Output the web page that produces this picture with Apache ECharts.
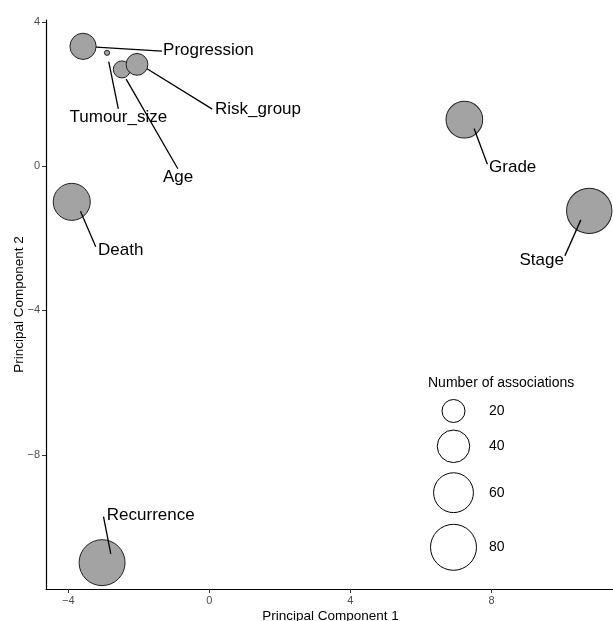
<!DOCTYPE html>
<html>
<head>
<meta charset="utf-8">
<script src="https://cdn.jsdelivr.net/npm/echarts@6/dist/echarts.min.js"></script>
<style>
  html, body { margin: 0; padding: 0; background: #fff; }
  #chart { width: 613px; height: 621px; }
</style>
</head>
<body>
<div id="chart"></div>
<script>
// values
const names = ['Progression', 'Tumour_size', 'Age', 'Risk_group', 'Grade', 'Stage', 'Death', 'Recurrence'];
const pc1 = [-3.58, -2.90, -2.48, -2.05, 7.23, 10.77, -3.90, -3.04];
const pc2 = [3.32, 3.14, 2.68, 2.82, 1.29, -1.24, -0.99, -10.99];
const assoc = [26, 1, 11, 18, 51, 78, 52, 80];
const xTicks = [-4, 0, 4, 8];
const yTicks = [-8, -4, 0, 4];
const sizeTicks = [20, 40, 60, 80];

// label placement in pixels, relative to the point centre
const labelLayout = {
    Progression: { seg: [13, 0.7, 79, 4.7], text: [80, 4], align: 'left' },
    Tumour_size: { seg: [1.7, 8.7, 11.3, 56], text: [11.3, 64.7], align: 'center' },
    Age: { seg: [4.3, 9.7, 56, 99.3], text: [56.3, 108], align: 'center' },
    Risk_group: { seg: [10, 4.3, 75.3, 44.7], text: [78, 45], align: 'left' },
    Grade: { seg: [9.7, 9, 23, 44.7], text: [24.7, 48], align: 'left' },
    Stage: { seg: [-8.4, 9, -24.4, 45], text: [-25.4, 49], align: 'right' },
    Death: { seg: [8.7, 9.3, 24, 45], text: [26.3, 48.3], align: 'left' },
    Recurrence: { seg: [8.7, -8.7, 1.4, -46], text: [4.7, -47], align: 'left' }
};

const FONT = '"Liberation Sans", Arial, Helvetica, sans-serif';
const sizeOf = n => 5.14 * Math.sqrt(n);
const fmt = v => String(v).replace('-', '\u2212');

const points = pc1.map((x, i) => [x, pc2[i], assoc[i]]);

const chart = echarts.init(document.getElementById('chart'));

// size legend drawn as graphics, radii from the same size scale
const legendX = 453.5;
const legendY = [411, 446.3, 492.7, 547.3];
const legendGraphics = [{
    type: 'text', x: 428, y: 383,
    style: { text: 'Number of associations', fontSize: 14, fontFamily: FONT, fill: '#000', align: 'left', verticalAlign: 'middle' }
}];
sizeTicks.forEach((v, i) => {
    legendGraphics.push({
        type: 'circle', shape: { cx: legendX, cy: legendY[i], r: sizeOf(v) / 2 },
        style: { fill: '#fff', stroke: '#000', lineWidth: 1 }
    });
    legendGraphics.push({
        type: 'text', x: 489, y: legendY[i],
        style: { text: String(v), fontSize: 14, fontFamily: FONT, fill: '#000', align: 'left', verticalAlign: 'middle' }
    });
});

const axisCommon = {
    type: 'value',
    splitLine: { show: false },
    axisLine: { show: true, onZero: false, lineStyle: { color: '#000', width: 1.2 } },
    axisTick: { show: true, length: 4, lineStyle: { color: '#333', width: 1 } },
    axisLabel: { color: '#4d4d4d', fontSize: 11, fontFamily: FONT, formatter: fmt },
    nameLocation: 'middle',
    nameMoveOverlap: false,
    nameTextStyle: { color: '#000', fontSize: 13.5, fontFamily: FONT }
};

const option = {
    animation: false,
    backgroundColor: '#fff',
    grid: { left: 46, top: 20, width: 569, height: 569, containLabel: false, outerBoundsMode: 'none' },
    xAxis: Object.assign({}, axisCommon, {
        min: -4.63, max: 11.5,
        name: 'Principal Component 1', nameGap: 20,
        axisTick: Object.assign({}, axisCommon.axisTick, { customValues: xTicks }),
        axisLabel: Object.assign({}, axisCommon.axisLabel, { customValues: xTicks, margin: 6 })
    }),
    yAxis: Object.assign({}, axisCommon, {
        min: -11.72, max: 4.05,
        name: 'Principal Component 2', nameGap: 20,
        axisTick: Object.assign({}, axisCommon.axisTick, { customValues: yTicks }),
        axisLabel: Object.assign({}, axisCommon.axisLabel, { customValues: yTicks, margin: 6 })
    }),
    graphic: legendGraphics,
    series: [
        {
            type: 'scatter',
            data: points,
            symbolSize: d => sizeOf(d[2]),
            itemStyle: { color: '#a3a3a3', borderColor: '#222', borderWidth: 1, opacity: 1 },
            z: 2
        },
        {
            type: 'custom',
            data: points,
            z: 3,
            renderItem: (params, api) => {
                const c = api.coord([api.value(0), api.value(1)]);
                const name = names[params.dataIndex];
                const L = labelLayout[name];
                return {
                    type: 'group',
                    children: [
                        {
                            type: 'line',
                            shape: { x1: c[0] + L.seg[0], y1: c[1] + L.seg[1], x2: c[0] + L.seg[2], y2: c[1] + L.seg[3] },
                            style: { stroke: '#000', lineWidth: 1.3 }
                        },
                        {
                            type: 'text',
                            x: c[0] + L.text[0], y: c[1] + L.text[1],
                            style: { text: name, fontSize: 17, fontFamily: FONT, fill: '#000', align: L.align, verticalAlign: 'middle' }
                        }
                    ]
                };
            }
        }
    ]
};

chart.setOption(option);
</script>
</body>
</html>
